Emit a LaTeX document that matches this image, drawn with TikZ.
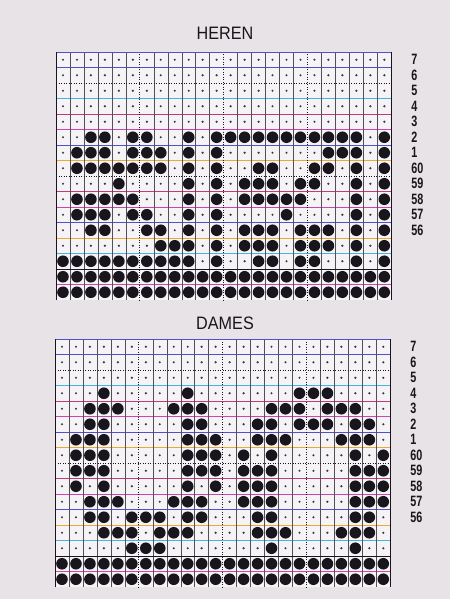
\documentclass[tikz,border=0pt]{standalone}
\usepackage{fontspec}
\setmainfont{Liberation Sans}
\newfontfamily\titlefont[FakeStretch=0.9]{Liberation Sans}
\newfontfamily\labelfont[FakeStretch=0.72]{Liberation Sans}
\usetikzlibrary{positioning}
\definecolor{paper}{RGB}{232,227,231}
\definecolor{sheet}{RGB}{246,243,246}
\definecolor{ink}{RGB}{24,22,28}
\definecolor{rowrule0}{RGB}{205,70,175}
\definecolor{rowrule1}{RGB}{80,80,205}
\definecolor{rowrule2}{RGB}{232,170,50}
\definecolor{rowrule3}{RGB}{70,180,225}
\definecolor{rowrule4}{RGB}{190,60,120}

\newcommand{\cellw}{13.97}
\newcommand{\cellh}{15.5}

% one empty chart: rules, guides, background stitches, two welt rows, row numbers
\newcommand{\chartgrid}[1]{%
  \fill[sheet] (0,0) rectangle ({24*\cellw},{16*\cellh});
  % coloured row rules
  \foreach \k [evaluate=\k as \m using {int(mod(\k,5))}] in {1,3,4,5,6,7,9,10,11,12,13,15}
    \draw[line width=0.8pt, draw=rowrule\m] (0,{\k*\cellh}) -- ({24*\cellw},{\k*\cellh});
  % stitch columns
  \foreach \k in {1,2,3,4,5,7,8,9,10,11,13,14,15,16,17,19,20,21,22,23}
    \draw[cellrule] ({\k*\cellw},0) -- ({\k*\cellw},{16*\cellh});
  % dotted guides
  \foreach \k in {6,12,18}
    \draw[guideline] ({\k*\cellw},0) -- ({\k*\cellw},{16*\cellh});
  \foreach \k in {2,8}
    \draw[guideline] (0,{\k*\cellh}) -- ({24*\cellw},{\k*\cellh});
  \draw[frame] (0,{14*\cellh}) -- ({24*\cellw},{14*\cellh});
  \draw[line width=0.8pt, draw=rowrule1] (0,0) -- ({24*\cellw},0);
  \draw[frame] (0,{16*\cellh}) -- (0,0);
  \draw[frame] ({24*\cellw},0) -- ({24*\cellw},{16*\cellh});
  % background stitches
  \foreach \r in {0,...,13}
    \foreach \c in {0,...,23}
      \fill[smalldot] ({(\c+0.5)*\cellw},{(\r+0.5)*\cellh}) circle (1.2pt);
  % welt rows
  \foreach \r in {14,15}
    \foreach \c in {0,...,23}
      \fill[bigdot] ({(\c+0.5)*\cellw},{(\r+0.5)*\cellh}) circle (5.8pt);
  % row numbers
  \foreach \r/\t in {0/7,1/6,2/5,3/4,4/3,5/2,6/1,7/60,8/59,9/58,10/57,11/56}
    \node[rowlabel] (#1-\t) at ({24*\cellw+20},{(\r+0.5)*\cellh}) {\t};
}

\begin{document}
\begin{tikzpicture}[
        x=1pt, y=-1pt,
        charttitle/.style={font=\titlefont\fontsize{18}{18}\selectfont, text=ink, inner sep=0pt},
        rowlabel/.style={font=\labelfont\bfseries\fontsize{15}{15}\selectfont, text=ink, anchor=west, inner sep=0pt},
        smalldot/.style={fill=ink!85},
        bigdot/.style={fill=ink},
        cellrule/.style={line width=0.45pt, draw=ink!75},
        guideline/.style={line width=0.9pt, draw=ink, dash pattern=on 0.9pt off 1.6pt},
        frame/.style={line width=0.9pt, draw=ink}
    ]
        \useasboundingbox (0,0) rectangle (450,599);
        \fill[paper] (0,0) rectangle (450,599);

        % Chart 1: HEREN
        \node[charttitle] (heren) at (225,33) {HEREN};
        \begin{scope}[shift={(56,52)}]
            \chartgrid{heren}
            \foreach \r/\cols in {
                5/{2,3,5,6,9,11,12,13,14,15,16,17,18,19,20,21,23},
                6/{1,2,3,5,6,7,9,11,19,20,21,23},
                7/{1,2,3,4,5,6,7,9,11,14,15,18,19,21,23},
                8/{4,9,11,13,14,15,17,18,21,23},
                9/{1,2,3,4,5,9,11,13,14,15,16,17,21,23},
                10/{1,2,3,5,6,9,11,16,21,23},
                11/{2,3,6,7,9,11,13,14,15,17,18,19,21,23},
                12/{7,8,9,11,13,14,15,17,18,19,21,23},
                13/{0,1,2,3,4,5,6,7,8,9,11,14,15,17,18,21,23}}
                \foreach \c in \cols
                    \fill[bigdot] ({(\c+0.5)*\cellw},{(\r+0.5)*\cellh}) circle (5.8pt);
        \end{scope}

        % Chart 2: DAMES
        \node[charttitle] (dames) at (225,323) {DAMES};
        \begin{scope}[shift={(55,339)}]
            \chartgrid{dames}
            \foreach \r/\cols in {
                3/{3,9,17,18,19},
                4/{2,3,4,8,9,10,15,16,17,19,20,21},
                5/{2,3,9,10,14,15,17,18,19,21,22},
                6/{1,2,3,9,10,11,14,15,16,20,21,22},
                7/{1,2,3,9,10,11,13,15,21,23},
                8/{1,2,3,9,10,11,13,14,15,21,22,23},
                9/{1,3,9,11,13,14,15,21,22,23},
                10/{2,3,4,8,9,10,13,14,15,21,22,23},
                11/{2,3,5,6,7,9,10,14,15,21,22},
                12/{3,4,5,7,8,9,14,15,16,20,21,22},
                13/{5,6,7,15,21}}
                \foreach \c in \cols
                    \fill[bigdot] ({(\c+0.5)*\cellw},{(\r+0.5)*\cellh}) circle (5.8pt);
        \end{scope}

    \end{tikzpicture}
\end{document}
